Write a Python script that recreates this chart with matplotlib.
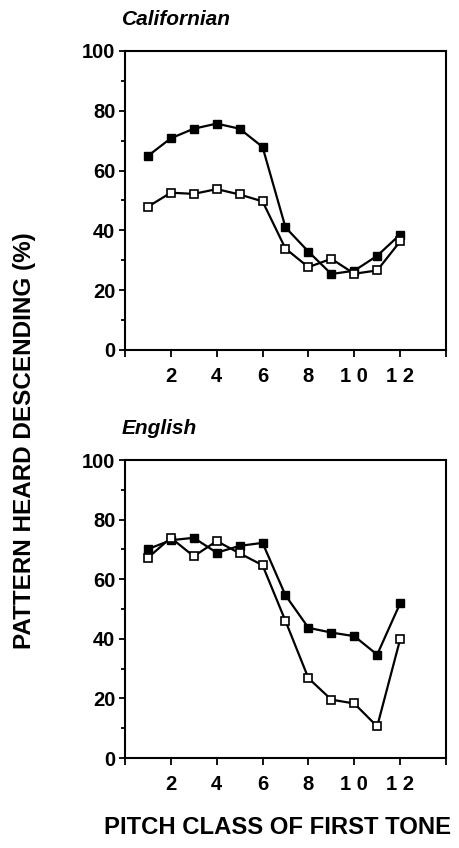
import matplotlib

matplotlib.use("Agg")
import matplotlib.pyplot as plt
from matplotlib.ticker import MultipleLocator

plt.rcParams["font.family"] = ["Liberation Sans", "DejaVu Sans"]

pitch = [1, 2, 3, 4, 5, 6, 7, 8, 9, 10, 11, 12]

cal_filled = [64.9, 70.8, 74.0, 75.7, 74.0, 67.9, 41.0, 32.9, 25.4, 26.5, 31.5, 38.6]
cal_open = [47.9, 52.6, 52.2, 53.8, 52.0, 49.7, 33.9, 27.7, 30.5, 25.5, 26.6, 36.3]

eng_filled = [70.1, 73.1, 73.9, 68.9, 71.2, 72.2, 54.6, 43.7, 42.1, 40.9, 34.7, 51.9]
eng_open = [67.2, 73.9, 67.7, 72.8, 68.7, 64.7, 46.0, 26.8, 19.6, 18.3, 10.6, 39.8]

panels = [("Californian", cal_filled, cal_open), ("English", eng_filled, eng_open)]

xticks = [0, 2, 4, 6, 8, 10, 12, 14]
xticklabels = ["", "2", "4", "6", "8", "1 0", "1 2", ""]
yticks = [0, 20, 40, 60, 80, 100]

fig = plt.figure(figsize=(4.59, 8.48), dpi=100)
boxes = [[0.2723, 0.5873, 0.6993, 0.3526], [0.2723, 0.1061, 0.6993, 0.3514]]

for box, (name, filled, opened) in zip(boxes, panels):
    ax = fig.add_axes(box)
    ax.plot(pitch, filled, color="black", lw=1.6, marker="s", ms=6,
            mfc="black", mec="black", zorder=3)
    ax.plot(pitch, opened, color="black", lw=1.6, marker="s", ms=6,
            mfc="white", mec="black", mew=1.2, zorder=4)
    ax.set_xlim(0, 14)
    ax.set_ylim(0, 100)
    ax.set_xticks(xticks)
    ax.set_xticklabels(xticklabels)
    ax.set_yticks(yticks)
    ax.yaxis.set_minor_locator(MultipleLocator(10))
    ax.tick_params(axis="both", which="both", direction="out", width=1.3,
                   labelsize=14.5)
    ax.tick_params(axis="y", which="major", length=4, pad=3)
    ax.tick_params(axis="x", which="major", length=5, pad=7)
    ax.tick_params(axis="y", which="minor", length=3)
    for lbl in ax.get_xticklabels() + ax.get_yticklabels():
        lbl.set_fontweight("bold")
    for s in ax.spines.values():
        s.set_linewidth(1.5)
    ax.text(-0.01, 1.105, name, transform=ax.transAxes, fontsize=15,
            fontweight="bold", style="italic", ha="left", va="center")

fig.text(0.054, 0.48, "PATTERN HEARD DESCENDING (%)", rotation=90,
         ha="center", va="center", fontsize=17.5, fontweight="bold")
fig.text(0.604, 0.024, "PITCH CLASS OF FIRST TONE", ha="center",
         va="center", fontsize=17.2, fontweight="bold")

fig.savefig("out.png", dpi=100)
